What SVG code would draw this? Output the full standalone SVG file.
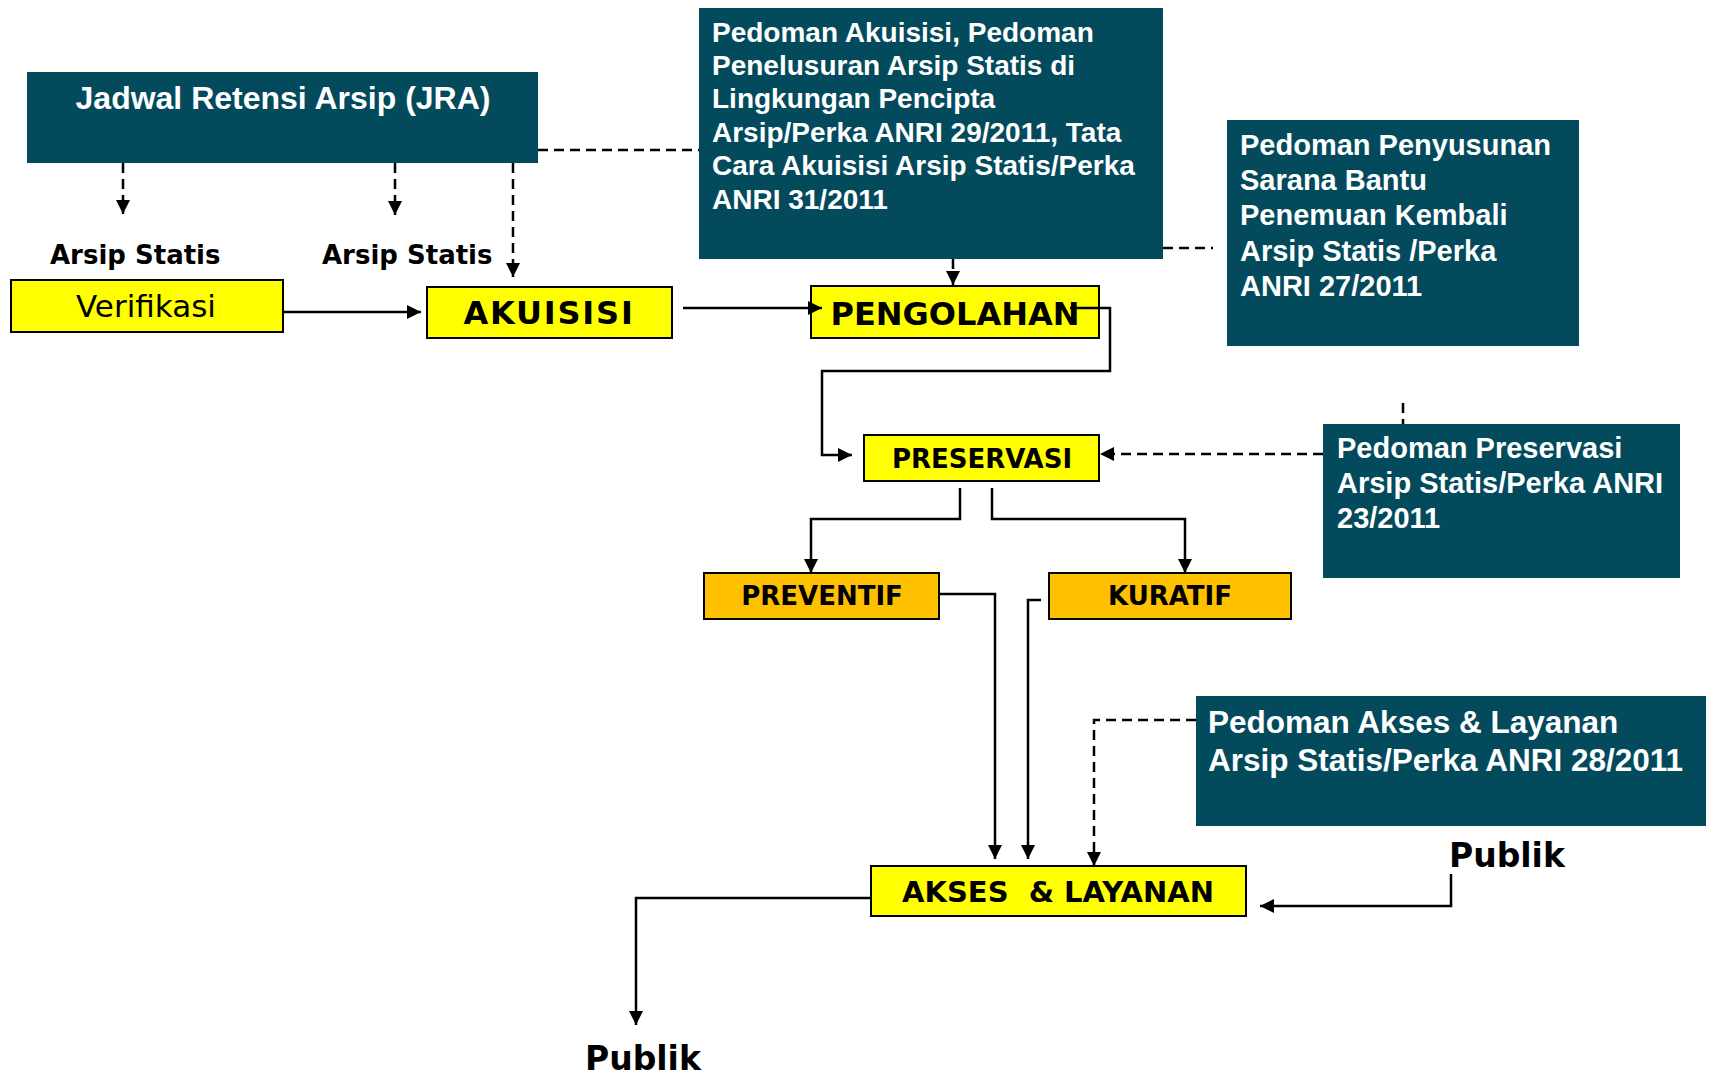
<svg xmlns="http://www.w3.org/2000/svg" width="1712" height="1076" viewBox="0 0 1712 1076">
  <style>
    .guide { fill: #034B5C; }
    .guide-text { font-family: "Liberation Sans", Arial, sans-serif; font-weight: bold; fill: #ffffff; }
    .step { fill: #FFFF00; stroke: #000; stroke-width: 2; }
    .sub { fill: #FFC000; stroke: #000; stroke-width: 2; }
    .step-text { font-family: "DejaVu Sans", Verdana, sans-serif; font-weight: bold; fill: #000; text-anchor: middle; white-space: pre; }
    .label { font-family: "DejaVu Sans", Verdana, sans-serif; font-weight: bold; fill: #000; }
    .flow { fill: none; stroke: #000; stroke-width: 2.5; }
    .dash { fill: none; stroke: #000; stroke-width: 2.5; stroke-dasharray: 10 6; }
  </style>
  <defs>
    <marker id="arrow" markerUnits="userSpaceOnUse" markerWidth="14" markerHeight="14" viewBox="0 0 10 10" refX="10" refY="5" orient="auto">
      <path d="M0,0 L10,5 L0,10 z" fill="#000"/>
    </marker>
  </defs>

  <rect width="1712" height="1076" fill="#ffffff"/>

  <!-- guideline boxes -->
  <g id="jra">
    <rect class="guide" x="27" y="72" width="511" height="91"/>
    <text class="guide-text" x="283" y="109" font-size="32" text-anchor="middle">Jadwal Retensi Arsip (JRA)</text>
  </g>
  <g id="pedoman-akuisisi">
    <rect class="guide" x="699" y="8" width="464" height="251"/>
    <text class="guide-text" font-size="28">
      <tspan x="712" y="42">Pedoman Akuisisi, Pedoman</tspan>
      <tspan x="712" y="75">Penelusuran Arsip Statis di</tspan>
      <tspan x="712" y="108">Lingkungan Pencipta</tspan>
      <tspan x="712" y="142">Arsip/Perka ANRI 29/2011, Tata</tspan>
      <tspan x="712" y="175">Cara Akuisisi Arsip Statis/Perka</tspan>
      <tspan x="712" y="209">ANRI 31/2011</tspan>
    </text>
  </g>
  <g id="pedoman-penyusunan">
    <rect class="guide" x="1227" y="120" width="352" height="226"/>
    <text class="guide-text" font-size="29">
      <tspan x="1240" y="155">Pedoman Penyusunan</tspan>
      <tspan x="1240" y="190">Sarana Bantu</tspan>
      <tspan x="1240" y="225">Penemuan Kembali</tspan>
      <tspan x="1240" y="261">Arsip Statis /Perka</tspan>
      <tspan x="1240" y="296">ANRI 27/2011</tspan>
    </text>
  </g>
  <g id="pedoman-preservasi">
    <rect class="guide" x="1323" y="424" width="357" height="154"/>
    <text class="guide-text" font-size="29">
      <tspan x="1337" y="458">Pedoman Preservasi</tspan>
      <tspan x="1337" y="493">Arsip Statis/Perka ANRI</tspan>
      <tspan x="1337" y="528">23/2011</tspan>
    </text>
  </g>
  <g id="pedoman-akses">
    <rect class="guide" x="1196" y="696" width="510" height="130"/>
    <text class="guide-text" font-size="31.5">
      <tspan x="1208" y="733">Pedoman Akses &amp; Layanan</tspan>
      <tspan x="1208" y="771">Arsip Statis/Perka ANRI 28/2011</tspan>
    </text>
  </g>

  <!-- process steps -->
  <g id="verifikasi">
    <rect class="step" x="11" y="280" width="272" height="52"/>
    <text x="146" y="317" font-family="'DejaVu Sans', Verdana, sans-serif" font-size="31" text-anchor="middle" fill="#000">Verifikasi</text>
  </g>
  <g id="akuisisi">
    <rect class="step" x="427" y="287" width="245" height="51"/>
    <text class="step-text" x="549" y="324" font-size="32" letter-spacing="1.8">AKUISISI</text>
  </g>
  <g id="pengolahan">
    <rect class="step" x="811" y="286" width="288" height="52"/>
    <text class="step-text" x="955" y="325" font-size="32">PENGOLAHAN</text>
  </g>
  <g id="preservasi">
    <rect class="step" x="864" y="435" width="235" height="46"/>
    <text class="step-text" x="982" y="468" font-size="26">PRESERVASI</text>
  </g>
  <g id="preventif">
    <rect class="sub" x="704" y="573" width="235" height="46"/>
    <text class="step-text" x="822" y="605" font-size="26">PREVENTIF</text>
  </g>
  <g id="kuratif">
    <rect class="sub" x="1049" y="573" width="242" height="46"/>
    <text class="step-text" x="1170" y="605" font-size="26">KURATIF</text>
  </g>
  <g id="akses-layanan">
    <rect class="step" x="871" y="866" width="375" height="50"/>
    <text class="step-text" x="1058" y="902" font-size="29">AKSES  &amp; LAYANAN</text>
  </g>

  <!-- free labels -->
  <g id="arsip-statis-1"><text class="label" x="50" y="264" font-size="26">Arsip Statis</text></g>
  <g id="arsip-statis-2"><text class="label" x="322" y="264" font-size="26">Arsip Statis</text></g>
  <g id="publik-in"><text class="label" x="1449" y="867" font-size="33">Publik</text></g>
  <g id="publik-out"><text class="label" x="585" y="1070" font-size="33">Publik</text></g>

  <!-- connectors -->
  <g id="connectors">
    <line class="dash" x1="123" y1="163" x2="123" y2="214" marker-end="url(#arrow)"/>
    <line class="dash" x1="395" y1="163" x2="395" y2="215" marker-end="url(#arrow)"/>
    <line class="dash" x1="513" y1="163" x2="513" y2="277" marker-end="url(#arrow)"/>
    <line class="dash" x1="538" y1="150" x2="699" y2="150"/>
    <line class="dash" x1="953" y1="259" x2="953" y2="285" marker-end="url(#arrow)"/>
    <line class="dash" x1="1163" y1="248" x2="1213" y2="248"/>
    <line class="dash" x1="1403" y1="403" x2="1403" y2="424"/>
    <line class="dash" x1="1323" y1="454" x2="1100" y2="454" marker-end="url(#arrow)"/>
    <polyline class="dash" points="1196,720 1094,720 1094,866" marker-end="url(#arrow)"/>

    <line class="flow" x1="283" y1="312" x2="421" y2="312" marker-end="url(#arrow)"/>
    <line class="flow" x1="683" y1="308" x2="822" y2="308" marker-end="url(#arrow)"/>
    <polyline class="flow" points="1070,308 1110,308 1110,371 822,371 822,455 852,455" marker-end="url(#arrow)"/>
    <polyline class="flow" points="960,488 960,519 811,519 811,573" marker-end="url(#arrow)"/>
    <polyline class="flow" points="992,488 992,519 1185,519 1185,573" marker-end="url(#arrow)"/>
    <polyline class="flow" points="939,594 995,594 995,859" marker-end="url(#arrow)"/>
    <polyline class="flow" points="1041,600 1028,600 1028,859" marker-end="url(#arrow)"/>
    <polyline class="flow" points="1451,874 1451,906 1260,906" stroke-width="3" marker-end="url(#arrow)"/>
    <polyline class="flow" points="871,898 636,898 636,1025" marker-end="url(#arrow)"/>
  </g>
</svg>
